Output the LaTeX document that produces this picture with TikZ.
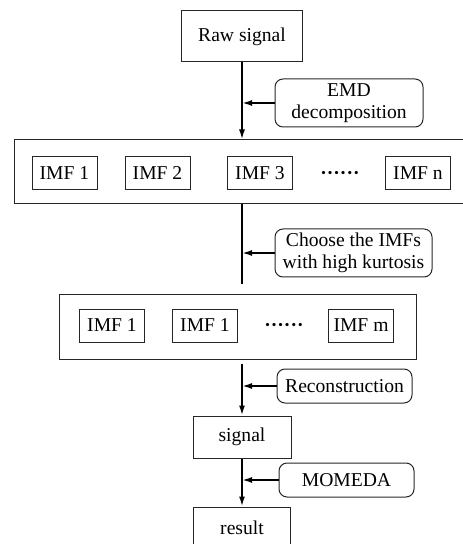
\documentclass[tikz,border=0pt]{standalone}
\usepackage{fontspec}
\setmainfont{Liberation Serif}
\usetikzlibrary{arrows.meta}

\begin{document}
\begin{tikzpicture}[x=0.5pt,y=-0.5pt,
  every node/.style={font=\fontsize{9.8}{11.2}\selectfont, text=black},
  boite/.style={draw=black!85, line width=0.5pt, inner sep=0pt, align=center},
  etape/.style={boite, rounded corners=4pt},
  imf/.style={boite, minimum width=32.5pt, minimum height=16.5pt},
  fleche/.style={line width=0.9pt, -{Latex[length=5pt,width=3pt]}},
  trait/.style={line width=0.9pt}]
\useasboundingbox (0,0) rectangle (462,544);

% signal brut
\node[boite, minimum width=60.5pt, minimum height=25.5pt] (raw) at (242,36.5) {Raw signal};
\node[etape, minimum width=74pt, minimum height=24pt] (emd) at (349,103) {EMD\\decomposition};

% decomposition
\node[boite, minimum width=228pt, minimum height=32pt] (imfs) at (242,172) {};
\path (64.5,173) node[imf] (imf1) {IMF 1}
(157.5,173) node[imf] (imf2) {IMF 2}
(260,173) node[imf] (imf3) {IMF 3}
(340,175) node (pts1) {\textbf{······}}
(418,173) node[imf] (imfn) {IMF n};
\draw[fleche] (raw) -- (raw.south |- imfs.north);
\draw[fleche] (emd) -- (emd.west -| raw.south);

% choix des IMF
\coordinate (coupe) at (242,284);
\node[etape, minimum width=78.5pt, minimum height=24pt] (choose) at (353.5,253) {Choose the IMFs\\with high kurtosis};
\draw[trait] (imfs) -- (coupe);
\draw[fleche] (choose) -- (choose.west -| coupe);

\node[boite, minimum width=178.5pt, minimum height=32pt] (sel) at (237.5,327) {};
\path (112,325.5) node[imf] (sel1) {IMF 1}
(205,325.5) node[imf] (sel2) {IMF 1}
(284,327) node (pts2) {\textbf{······}}
(361,325.5) node[imf] (selm) {IMF m};

% reconstruction
\node[etape, minimum width=67.5pt, minimum height=17pt] (rec) at (344.5,386) {Reconstruction};
\node[boite, minimum width=49pt, minimum height=21pt] (signal) at (242,437) {signal};
\draw[fleche, shorten <=2pt] (signal.north |- sel.south) -- (signal);
\draw[fleche] (rec) -- (rec.west -| signal.north);

% filtrage
\node[etape, minimum width=67.5pt, minimum height=17pt] (momeda) at (346.5,480) {MOMEDA};
\node[boite, minimum width=48.5pt, minimum height=21pt] (result) at (242,528) {result};
\draw[fleche] (signal) -- (result);
\draw[fleche] (momeda) -- (momeda.west -| signal.south);

\end{tikzpicture}
\end{document}
